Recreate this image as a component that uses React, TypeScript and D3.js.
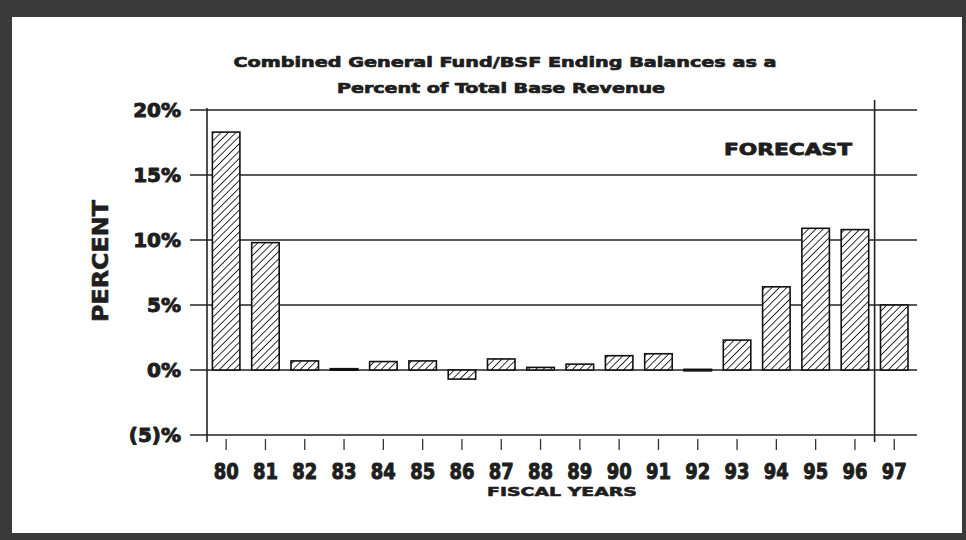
import React from "react";
import * as d3 from "d3";

const years = ["80","81","82","83","84","85","86","87","88","89","90","91","92","93","94","95","96","97"];
const values = [18.3, 9.8, 0.7, 0.1, 0.65, 0.7, -0.7, 0.85, 0.2, 0.45, 1.1, 1.25, 0.05, 2.3, 6.4, 10.9, 10.8, 5.0];
const yTicks = [-5, 0, 5, 10, 15, 20];
const yTickLabels = ["(5)%", "0%", "5%", "10%", "15%", "20%"];
const titleLines = ["Combined General Fund/BSF Ending Balances as a", "Percent of Total Base Revenue"];
const forecastStart = "97";

const W = 966, H = 540;
const FONT = "'DejaVu Sans', 'Liberation Sans', Arial, sans-serif";
const INK = "#1e1e1e";

export default function App() {
  const x = d3.scaleBand<string>().domain(years).range([206.5, 913.9]).paddingInner(0.3).paddingOuter(0.15);
  const y = d3.scaleLinear().domain([-5, 20]).range([435, 110]);
  const axisX = 207;
  const plotRight = 917;
  const step = x.step();
  const fx = (x(forecastStart) as number) + x.bandwidth() / 2 - step / 2;

  const heavy = (sw: number) => ({ stroke: INK, strokeWidth: sw, strokeLinejoin: "round" as const, fill: INK });

  return (
    <svg width={W} height={H} style={{ position: "absolute", left: 0, top: 0, display: "block" }}>
      <defs>
        <pattern id="hatch" patternUnits="userSpaceOnUse" width={5.2} height={5.2} patternTransform="rotate(45)">
          <rect width={5.2} height={5.2} fill="#fff" />
          <line x1={0} y1={0} x2={0} y2={5.2} stroke="#111" strokeWidth={1.7} />
        </pattern>
      </defs>
      <rect x={0} y={0} width={W} height={H} fill="#3a3a3a" />
      <rect x={12} y={17} width={950} height={516} fill="#ffffff" />

      {/* title */}
      <text x={505} y={67} textAnchor="middle" fontFamily={FONT} fontWeight={900} fontSize={14} {...heavy(0.7)}
        textLength={543} lengthAdjust="spacingAndGlyphs">{titleLines[0]}</text>
      <text x={501} y={93} textAnchor="middle" fontFamily={FONT} fontWeight={900} fontSize={14} {...heavy(0.7)}
        textLength={328} lengthAdjust="spacingAndGlyphs">{titleLines[1]}</text>

      {/* gridlines */}
      {yTicks.map((t) => (
        <line key={"g" + t} x1={axisX - 17} x2={plotRight} y1={y(t)} y2={y(t)} stroke="#222" strokeWidth={1.6} />
      ))}
      {/* y axis */}
      <line x1={axisX} x2={axisX} y1={y(20) - 2} y2={442} stroke="#222" strokeWidth={1.6} />
      {/* forecast separator */}
      <line x1={fx} x2={fx} y1={100} y2={442} stroke="#222" strokeWidth={1.6} />

      {/* y tick labels */}
      {yTicks.map((t, i) => (
        <text key={"yl" + t} x={181} y={y(t) + 7} textAnchor="end" fontFamily={FONT} fontWeight={900} fontSize={20} {...heavy(1)}>
          {yTickLabels[i]}
        </text>
      ))}

      {/* y axis title */}
      <text transform={`translate(108,261) rotate(-90)`} textAnchor="middle" fontFamily={FONT} fontWeight={900}
        fontSize={22} {...heavy(0.6)} textLength={122} lengthAdjust="spacingAndGlyphs">PERCENT</text>

      {/* bars */}
      {years.map((yr, i) => {
        const v = values[i];
        const top = y(Math.max(0, v));
        const bot = y(Math.min(0, v));
        const h = Math.max(bot - top, 1.5);
        return (
          <rect key={yr} x={x(yr)} y={top} width={x.bandwidth()} height={h} fill="url(#hatch)" stroke="#111" strokeWidth={1.6} />
        );
      })}

      {/* x ticks & labels */}
      {years.map((yr) => {
        const cx = (x(yr) as number) + x.bandwidth() / 2;
        return (
          <g key={"xt" + yr}>
            <line x1={cx} x2={cx} y1={439} y2={450} stroke="#333" strokeWidth={1.3} />
            <text x={cx} y={479} textAnchor="middle" fontFamily={FONT} fontWeight={900} fontSize={21} {...heavy(1)}
              textLength={25} lengthAdjust="spacingAndGlyphs">{yr}</text>
          </g>
        );
      })}
      <text x={562} y={496} textAnchor="middle" fontFamily={FONT} fontWeight={900} fontSize={13} {...heavy(0.6)}
        textLength={150} lengthAdjust="spacingAndGlyphs">FISCAL YEARS</text>

      {/* forecast label */}
      <text x={788} y={155} textAnchor="middle" fontFamily={FONT} fontWeight={900} fontSize={16} {...heavy(0.8)}
        textLength={128} lengthAdjust="spacingAndGlyphs">FORECAST</text>
    </svg>
  );
}
